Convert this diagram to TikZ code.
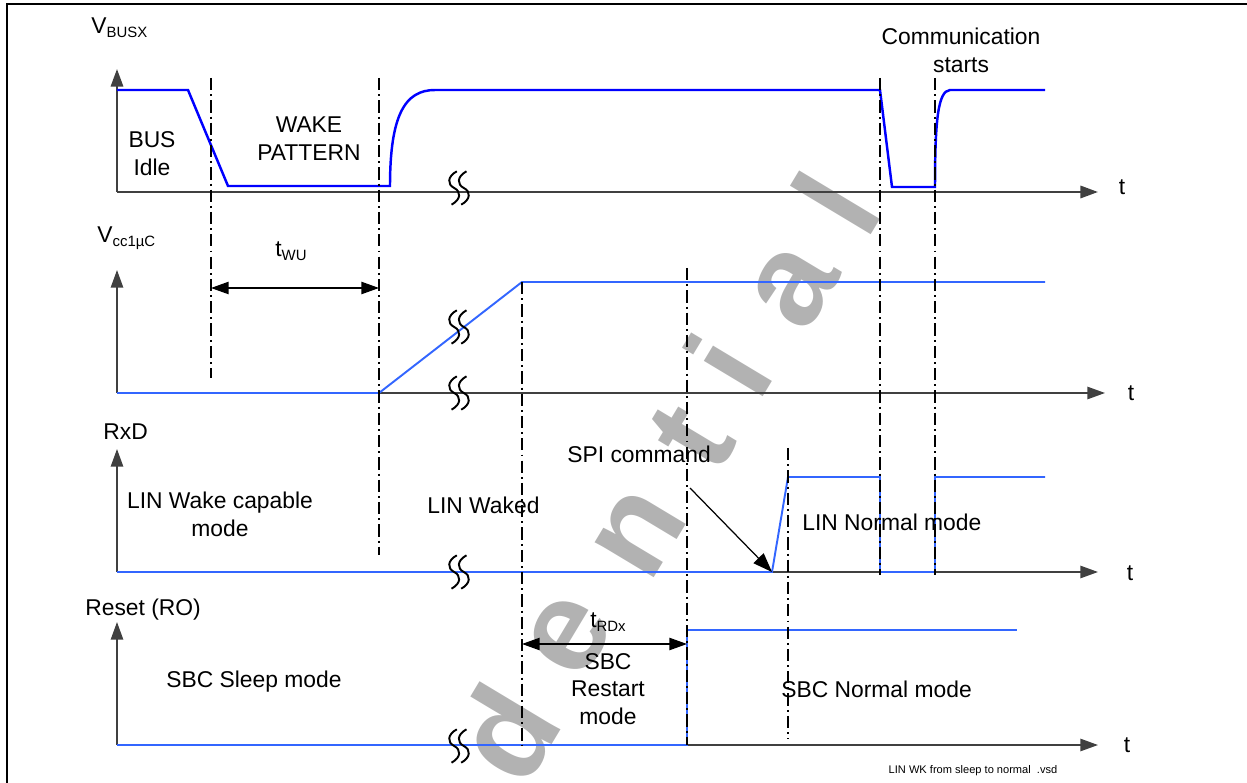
\documentclass[tikz,border=0pt]{standalone}
\usepackage{fontspec}
\setmainfont{Liberation Sans}
\usetikzlibrary{arrows.meta}

\definecolor{busblue}{RGB}{0,0,255}
\definecolor{lineblue}{RGB}{51,102,255}
\definecolor{axisgray}{RGB}{64,64,64}

\newcommand{\lowidx}[1]{\raisebox{-0.35ex}{\fontsize{8.5}{8.5}\selectfont #1}}
\newcommand{\brk}{\tikz[baseline=-0.5ex]{
  \foreach \dx in {0pt,5.5pt} {
    \draw[black, line width=1.1pt, xshift=\dx] (1.5pt,9.5pt) .. controls (-4pt,6.5pt) and (-4pt,2pt) .. (0pt,0pt) .. controls (4pt,-2pt) and (4pt,-6.5pt) .. (-1.5pt,-9.5pt);
  }
}}

\begin{document}
\begin{tikzpicture}[x=0.02cm, y=-0.02cm, every node/.style={font=\fontsize{13}{15.8}\selectfont},
    axis/.style={draw=axisgray, line width=0.9pt, -{Triangle[length=10pt,width=7pt]}},
    markline/.style={black, line width=1.6pt, dash pattern=on 7pt off 2.3pt on 1.1pt off 2.3pt},
    dim/.style={black, line width=0.7pt, {Triangle[length=10pt,width=7pt]}-{Triangle[length=10pt,width=7pt]}},
    wmark/.style={text=black!30, font=\fontsize{74}{74}\selectfont\bfseries, rotate=59, inner sep=0pt}]
    \useasboundingbox (0,0) rectangle (1247,783);
    \draw[line width=1pt] (7,783) -- (7,4) -- (1247,4);

    % watermark
    \foreach \ch/\px/\py in {d/505/733, e/570/636, n/640/533, t/692/437, i/727/365, a/795/287, l/835/203}
      \node[wmark] (wm\ch) at (\px,\py) {\ch};

    % axes
    \foreach \ay/\tx/\lx/\ly/\lw [count=\k] in {192/1098/1122/187/1.3pt, 393/1105/1131/393/0.9pt, 572/1098/1130/573/0.9pt, 745/1098/1127/745/0.9pt} {
      \draw[axis, line width=\lw] (117,\ay) -- (\tx,\ay);
      \draw[axis, line width=\lw] (117,\ay) -- (117,{\ay-123});
      \node (t\k) at (\lx,\ly) {t};
    }

    % signals
    \draw[busblue, line width=1.4pt] (117,90) -- (188,90) -- (228,186) -- (390,186)
      .. controls (390,115) and (405,90) .. (435,90) -- (880,90) -- (892,187) -- (935,187)
      .. controls (935,120) and (938,91) .. (950,90) -- (1045,90);
    \draw[lineblue, line width=1.1pt] (117,393) -- (379,393) -- (522,282) -- (1045,282);
    \draw[lineblue, line width=1.1pt] (117,572) -- (772,572) -- (788,477) -- (880,477) -- (880,572)
      -- (935,572) -- (935,477) -- (1045,477);
    \draw[lineblue, line width=1.1pt] (117,745) -- (687,745) -- (687,630) -- (1017,630);

    % breaks
    \foreach \bx/\by [count=\k] in {459/188, 459/327, 459/393, 459/572, 459/746}
      \node[inner sep=0pt] (brk\k) at (\bx,\by) {\brk};

    % markers
    \foreach \mx/\ya/\yb in {211/78/378, 379/78/555, 880/78/575, 935/78/575, 522/282/745, 687/268/745, 788/448/739}
      \draw[markline] (\mx,\ya) -- (\mx,\yb);

    % durations
    \coordinate (wuL) at (211,288);
    \coordinate (wuR) at (379,288);
    \draw[dim] (wuL) -- (wuR);
    \coordinate (rdL) at (522,644);
    \coordinate (rdR) at (687,644);
    \draw[dim] (rdL) -- (rdR);
    \coordinate (spiA) at (690,488);
    \coordinate (spiB) at (772,572);
    \draw[black, line width=0.7pt, -{Triangle[length=11pt,width=8pt]}] (spiA) -- (spiB);

    % labels
    \node[anchor=west, inner sep=0pt] (vbus) at (91,28) {V\lowidx{BUSX}};
    \node[anchor=west, inner sep=0pt] (vcc) at (97,238) {V\lowidx{cc1µC}};
    \node[anchor=west, inner sep=0pt] (rxd) at (103,432) {RxD};
    \node[anchor=west, inner sep=0pt] (rst) at (85,610) {Reset (RO)};
    \node[align=center] (idle) at (152,154) {BUS\\Idle};
    \node[align=center] (wake) at (309,139) {WAKE\\PATTERN};
    \node[align=center] (comm) at (961,50) {Communication\\starts};
    \node (twu) at (291,251) {t\lowidx{WU}};
    \node[align=center] (wcap) at (220,514) {LIN Wake capable\\mode};
    \node[anchor=west, inner sep=0pt] (waked) at (427,505) {LIN Waked};
    \node[anchor=west, inner sep=0pt] (spi) at (567,454) {SPI command};
    \node[anchor=west, inner sep=0pt] (linn) at (802,522) {LIN Normal mode};
    \node (trd) at (608,622) {t\lowidx{RDx}};
    \node[align=center] (rest) at (608,689) {SBC\\Restart\\mode};
    \node[anchor=west, inner sep=0pt] (sleep) at (166,682) {SBC Sleep mode};
    \node[anchor=west, inner sep=0pt] (norm) at (781,689) {SBC Normal mode};
    \node[font=\fontsize{6.3}{7}\selectfont] (fname) at (973,771) {LIN WK from sleep to normal~~.vsd};
\end{tikzpicture}
\end{document}
